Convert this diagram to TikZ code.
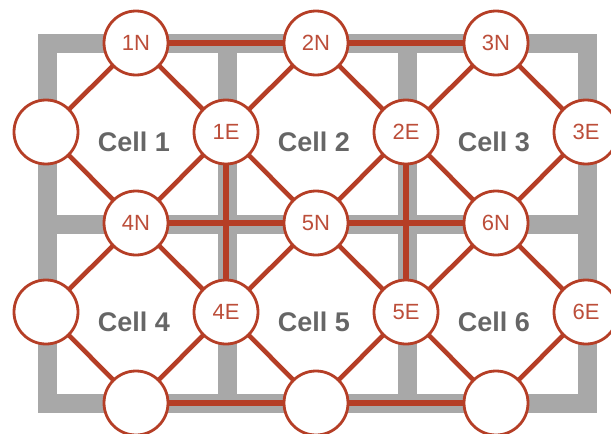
\documentclass[tikz,border=0pt]{standalone}
\usepackage{fontspec}
\setmainfont{Liberation Sans}
\definecolor{wallgray}{RGB}{168,168,168}
\definecolor{linkred}{RGB}{181,62,38}
\definecolor{labelred}{RGB}{188,78,58}
\definecolor{celltext}{RGB}{102,102,102}
\pgfdeclarelayer{walls}
\pgfdeclarelayer{links}
\pgfsetlayers{walls,links,main}
\begin{document}
\begin{tikzpicture}[x=1pt,y=-1pt,
  wall/.style={draw=wallgray,line width=19pt},
  link/.style={draw=linkred,line width=4.6pt},
  wlink/.style={draw=linkred,line width=6pt},
  port/.style={circle,draw=linkred,fill=white,line width=2.8pt,minimum size=64pt,inner sep=0pt,
    text=labelred,font=\fontsize{22}{22}\selectfont},
  celllabel/.style={text=celltext,font=\fontsize{27}{27}\selectfont\bfseries}]
\useasboundingbox (0,0) rectangle (611,434);
% walls
\begin{pgfonlayer}{walls}
\draw[wall] (47.5,43.5) rectangle (587.5,403.5);
\draw[wall] (227,43.5) -- (227,403.5);
\draw[wall] (407,43.5) -- (407,403.5);
\draw[wall] (47.5,224) -- (587.5,224);
\end{pgfonlayer}
% nodes
\node[port] (L1) at (46,132) {};
\node[port] (1E) at (226,132) {1E};
\node[port] (2E) at (406,132) {2E};
\node[port] (3E) at (586,132) {3E};
\node[port] (L4) at (46,312) {};
\node[port] (4E) at (226,312) {4E};
\node[port] (5E) at (406,312) {5E};
\node[port] (6E) at (586,312) {6E};
\node[port] (1N) at (136,43) {1N};
\node[port] (2N) at (316,43) {2N};
\node[port] (3N) at (496,43) {3N};
\node[port] (4N) at (136,223) {4N};
\node[port] (5N) at (316,223) {5N};
\node[port] (6N) at (496,223) {6N};
\node[port] (B4) at (136,403) {};
\node[port] (B5) at (316,403) {};
\node[port] (B6) at (496,403) {};
% cell labels
\node[celllabel] (c1) at (134,142) {Cell 1};
\node[celllabel] (c2) at (314,142) {Cell 2};
\node[celllabel] (c3) at (494,142) {Cell 3};
\node[celllabel] (c4) at (134,322) {Cell 4};
\node[celllabel] (c5) at (314,322) {Cell 5};
\node[celllabel] (c6) at (494,322) {Cell 6};
% links
\begin{pgfonlayer}{links}
\draw[link] (1N.center) -- (L1.center) -- (4N.center) -- (1E.center) -- cycle;
\draw[link] (2N.center) -- (1E.center) -- (5N.center) -- (2E.center) -- cycle;
\draw[link] (3N.center) -- (2E.center) -- (6N.center) -- (3E.center) -- cycle;
\draw[link] (4N.center) -- (L4.center) -- (B4.center) -- (4E.center) -- cycle;
\draw[link] (5N.center) -- (4E.center) -- (B5.center) -- (5E.center) -- cycle;
\draw[link] (6N.center) -- (5E.center) -- (B6.center) -- (6E.center) -- cycle;
\draw[wlink] (1N.center) -- (2N.center) -- (3N.center);
\draw[wlink] (4N.center) -- (5N.center) -- (6N.center);
\draw[wlink] (B4.center) -- (B5.center) -- (B6.center);
\draw[wlink] (1E.center) -- (4E.center);
\draw[wlink] (2E.center) -- (5E.center);
\end{pgfonlayer}
\end{tikzpicture}
\end{document}
